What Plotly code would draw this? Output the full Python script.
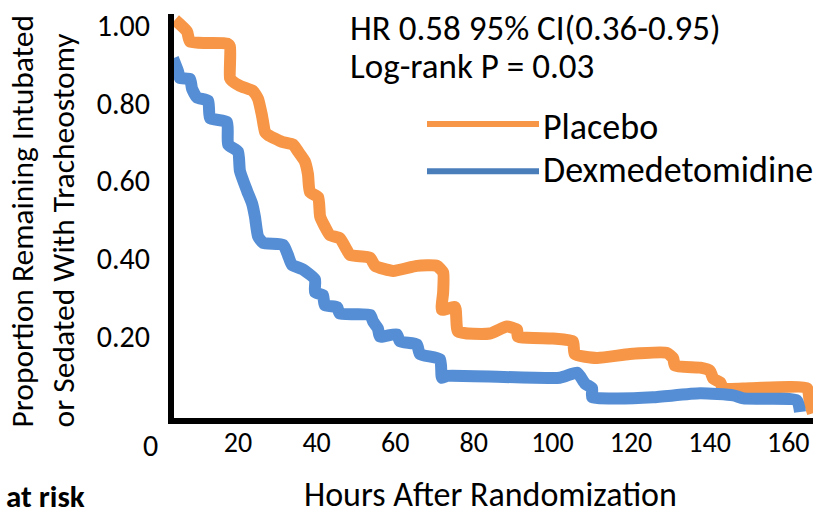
import plotly.graph_objects as go

# ---- data ----
placebo_hours = [3.97, 7.02, 7.79, 17.2, 17.96, 17.96, 18.5, 20.5, 23.8, 25.1, 26.1, 26.9, 27.6,
                 31.2, 34.0, 35.3, 37.0, 37.8, 38.3, 40.4, 40.9, 42.1, 43.4, 45.9, 47.7, 48.5,
                 53.6, 54.9, 59.5, 65.5, 70.6, 72.2, 72.2, 71.9, 75.2, 76.0, 84.1, 88.4, 91.0,
                 91.2, 100.1, 105.2, 105.7, 111.3, 119.7, 129.1, 130.7, 131.2, 137.6, 140.1,
                 140.9, 142.7, 143.4, 150.3, 164.8, 165.5, 166.3]
placebo_prop = [1.014, 0.984, 0.958, 0.953, 0.945, 0.864, 0.857, 0.844, 0.831, 0.811, 0.768, 0.725,
                0.718, 0.700, 0.693, 0.675, 0.650, 0.617, 0.571, 0.558, 0.508, 0.482, 0.460,
                0.452, 0.422, 0.409, 0.402, 0.381, 0.368, 0.381, 0.381, 0.364, 0.313, 0.268,
                0.275, 0.212, 0.207, 0.225, 0.217, 0.199, 0.194, 0.187, 0.154, 0.144, 0.154,
                0.157, 0.144, 0.124, 0.119, 0.111, 0.091, 0.081, 0.066, 0.066, 0.066, 0.028,
                0.002]

dex_hours = [3.46, 4.73, 5.24, 7.79, 8.30, 9.57, 12.4, 12.9, 17.2, 17.5, 20.0, 20.5, 22.3, 23.6,
             24.3, 25.1, 26.4, 31.5, 32.7, 33.7, 36.5, 39.6, 39.6, 41.6, 42.1, 45.2, 45.9,
             53.6, 54.4, 55.6, 56.1, 60.4, 61.2, 65.5, 66.3, 71.4, 71.9, 73.2, 101.9, 106.3,
             108.3, 110.1, 110.1, 115.4, 125.6, 137.6, 146.0, 148.6, 162.2, 163.0]
dex_prop = [0.915, 0.882, 0.864, 0.862, 0.837, 0.814, 0.806, 0.761, 0.751, 0.693, 0.675, 0.625,
            0.574, 0.541, 0.508, 0.457, 0.440, 0.435, 0.409, 0.384, 0.372, 0.346, 0.313, 0.306,
            0.280, 0.275, 0.258, 0.255, 0.237, 0.220, 0.199, 0.205, 0.187, 0.179, 0.154, 0.141,
            0.093, 0.098, 0.093, 0.106, 0.078, 0.066, 0.043, 0.040, 0.043, 0.053, 0.048, 0.040,
            0.035, 0.005]

x_tick_vals = [20, 40, 60, 80, 100, 120, 140, 160]
x_tick_text = ["20", "40", "60", "80", "100", "120", "140", "160"]
y_tick_vals = [0.2, 0.4, 0.6, 0.8, 1.0]
y_tick_text = ["0.20", "0.40", "0.60", "0.80", "1.00"]

series_names = ["Placebo", "Dexmedetomidine"]
stats_lines = ["HR 0.58 95% CI(0.36-0.95)", "Log-rank P = 0.03"]

ORANGE = "#F79646"
BLUE = "#558ED5"
BLUE_LEG = "#4A7EBB"
FONT = "Carlito, Calibri, Lato, sans-serif"

W, H = 823, 517
PL, PR, PT, PB = 174, 813, 7, 418


def fx(xp):
    return (xp - PL) / (PR - PL)


def fy(yp):
    return (PB - yp) / (PB - PT)


fig = go.Figure()
fig.add_trace(go.Scatter(x=placebo_hours, y=placebo_prop, mode="lines", name=series_names[0],
                         line=dict(color=ORANGE, width=12, shape="spline", smoothing=0.5),
                         showlegend=False))
fig.add_trace(go.Scatter(x=dex_hours, y=dex_prop, mode="lines", name=series_names[1],
                         line=dict(color=BLUE, width=12, shape="spline", smoothing=0.5),
                         showlegend=False))

annotations = [
    dict(text=stats_lines[0], x=fx(348), y=fy(21), xanchor="left", yanchor="middle",
         font=dict(size=35, color="black", family=FONT)),
    dict(text=stats_lines[1], x=fx(348), y=fy(60), xanchor="left", yanchor="middle",
         font=dict(size=35, color="black", family=FONT)),
    dict(text=series_names[0], x=fx(541), y=fy(122), xanchor="left", yanchor="middle",
         font=dict(size=36, color="black", family=FONT)),
    dict(text=series_names[1], x=fx(541), y=fy(166), xanchor="left", yanchor="middle",
         font=dict(size=36, color="black", family=FONT)),
    dict(text="0", x=fx(150), y=fy(446), xanchor="center", yanchor="middle",
         font=dict(size=30, color="black", family=FONT)),
    dict(text="Proportion Remaining Intubated<br>or Sedated With Tracheostomy",
         x=fx(42), y=fy(218), xanchor="center", yanchor="middle", textangle=-90, align="left",
         font=dict(size=31.5, color="black", family=FONT)),
    dict(text="Hours After Randomization", x=fx(490), y=fy(496), xanchor="center",
         yanchor="middle", font=dict(size=34, color="black", family=FONT)),
    dict(text="<b>at risk</b>", x=fx(4), y=fy(497), xanchor="left", yanchor="middle",
         font=dict(size=31, color="black", family=FONT)),
]
for a in annotations:
    a.update(xref="paper", yref="paper", showarrow=False)

shapes = [
    dict(type="line", xref="paper", yref="paper", x0=fx(427), x1=fx(539), y0=fy(119), y1=fy(119),
         line=dict(color=ORANGE, width=6)),
    dict(type="line", xref="paper", yref="paper", x0=fx(427), x1=fx(539), y0=fy(167), y1=fy(167),
         line=dict(color=BLUE_LEG, width=6)),
]

fig.update_layout(
    width=W, height=H,
    margin=dict(l=PL, r=W - PR, t=PT, b=H - PB, pad=0),
    paper_bgcolor="white", plot_bgcolor="white",
    font=dict(family=FONT, color="black"),
    annotations=annotations, shapes=shapes,
    xaxis=dict(range=[3.72, 166.3], showline=True, linewidth=6, linecolor="black",
               showgrid=False, zeroline=False, ticks="", tickvals=x_tick_vals,
               ticktext=x_tick_text, tickfont=dict(size=28, family=FONT),
               ticklabelstandoff=-6, ticklabeloverflow="allow"),
    yaxis=dict(range=[-0.0104, 1.029], showline=True, linewidth=6, linecolor="black",
               showgrid=False, zeroline=False, ticks="", tickvals=y_tick_vals,
               ticktext=y_tick_text, tickfont=dict(size=30, family=FONT),
               ticklabelstandoff=12, ticklabeloverflow="allow"),
    showlegend=False,
)

fig.write_html("out.html", config={"displayModeBar": False},
               post_script="document.body.style.margin='0';")
